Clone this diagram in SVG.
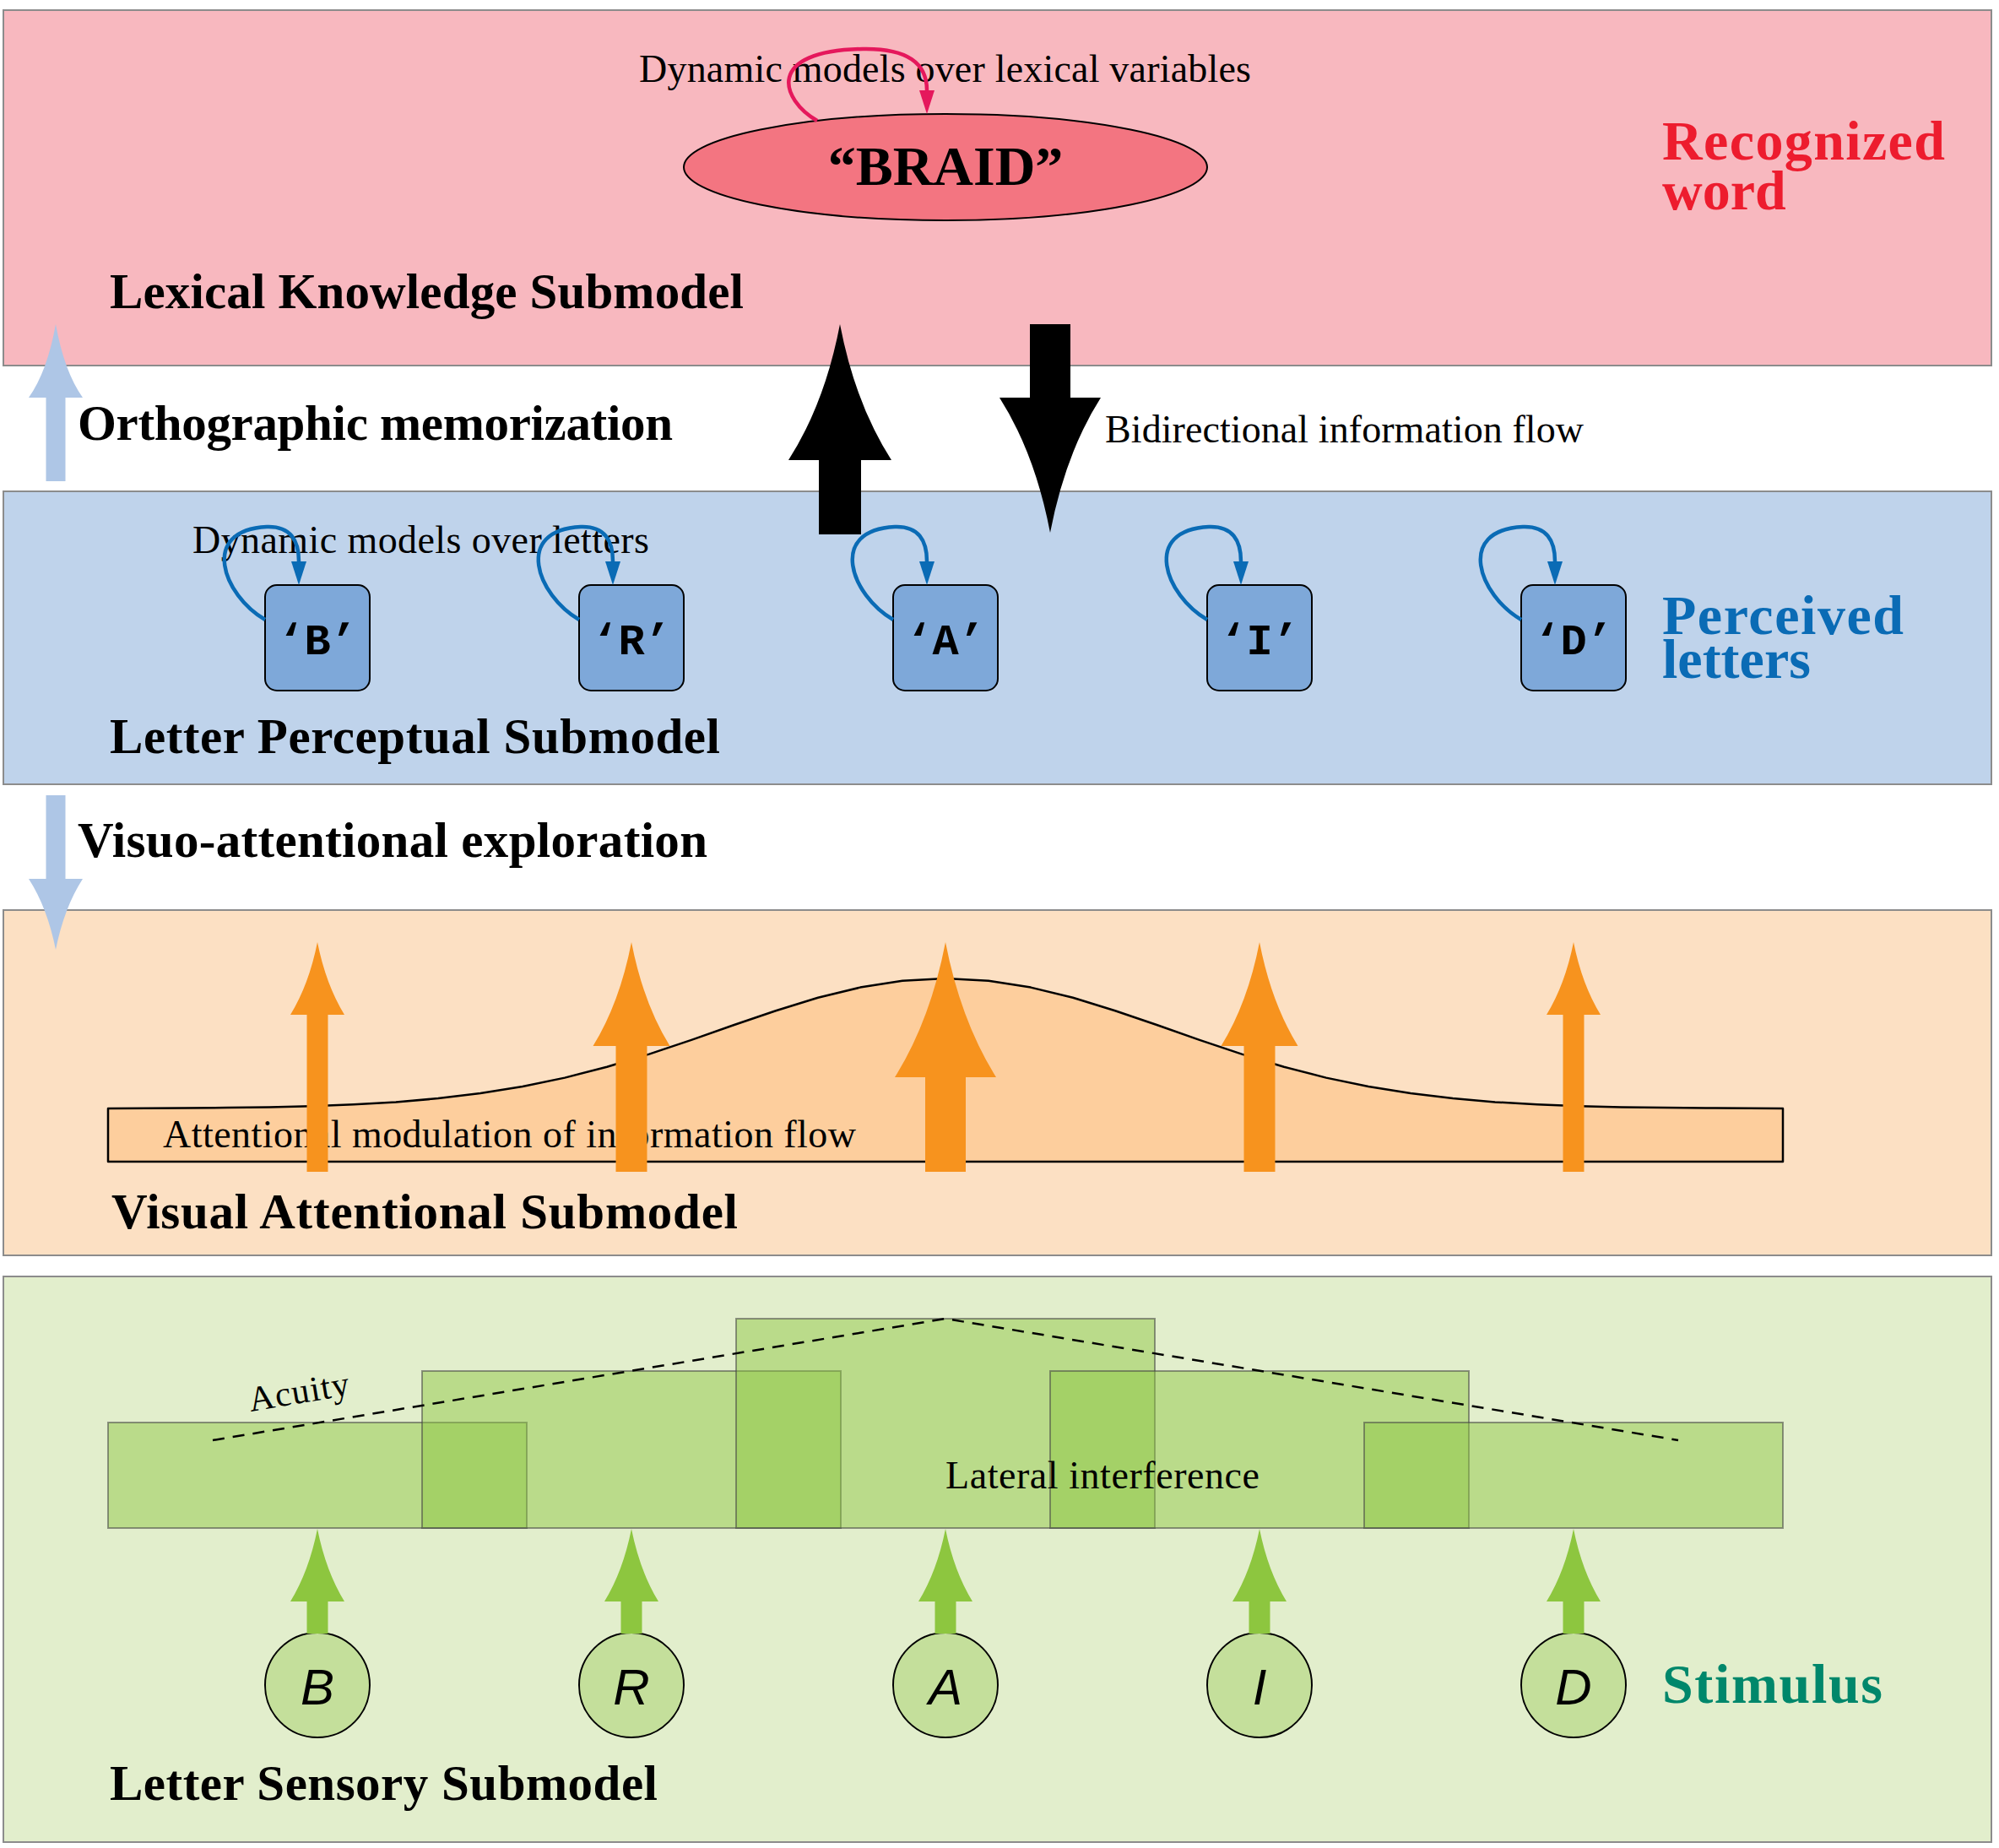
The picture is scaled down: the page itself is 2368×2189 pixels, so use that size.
<svg xmlns="http://www.w3.org/2000/svg" width="2368" height="2189" viewBox="0 0 2368 2189">
<style>
.panel{stroke:#8c8c8c;stroke-width:2}
.lbl{font-family:"Liberation Serif","Times New Roman",serif;font-size:46px;fill:#000}
.title{font-family:"Liberation Serif","Times New Roman",serif;font-size:59px;font-weight:bold;fill:#000}
.side{font-family:"Liberation Serif","Times New Roman",serif;font-size:66px;font-weight:bold}
.tt{font-family:"Liberation Mono","Courier New",monospace;font-size:52px;font-weight:bold;fill:#000;text-anchor:middle}
.sens{font-family:"Liberation Sans",Arial,sans-serif;font-style:italic;font-size:60px;fill:#000;text-anchor:middle}
.box{fill:#7ea8d9;stroke:#000;stroke-width:2}
.circ{fill:#c4df9b;stroke:#000;stroke-width:2}
.loopb{fill:none;stroke:#0a6bb5;stroke-width:4.5}
.loopp{fill:none;stroke:#e5185c;stroke-width:4.5}
.orange{fill:#f7931e}
.green{fill:#8dc63f}
.lblue{fill:#aec6e6}
.gr{fill:#8dc63f;fill-opacity:0.47;stroke:#444;stroke-opacity:0.55;stroke-width:2}
</style>
<defs>
<marker id="ab" markerUnits="userSpaceOnUse" markerWidth="30" markerHeight="20" refX="0" refY="9" orient="auto">
<path d="M0,0 L28,9 L0,18 z" fill="#0a6bb5"/>
</marker>
<marker id="ap" markerUnits="userSpaceOnUse" markerWidth="30" markerHeight="20" refX="0" refY="9" orient="auto">
<path d="M0,0 L28,9 L0,18 z" fill="#e5185c"/>
</marker>
</defs>

<g id="panels">
<rect id="lexical-panel" class="panel" x="4" y="12" width="2355" height="421" fill="#f8b8bf"/>
<rect id="perceptual-panel" class="panel" x="4" y="582" width="2355" height="347" fill="#bfd3eb"/>
<rect id="attentional-panel" class="panel" x="4" y="1078" width="2355" height="409" fill="#fce0c3"/>
<rect id="sensory-panel" class="panel" x="4" y="1512" width="2355" height="670" fill="#e2eecc"/>
</g>

<g id="lexical">
<ellipse id="braid" cx="1120" cy="198" rx="310" ry="63" fill="#f37581" stroke="#000" stroke-width="2"/>
<text class="title" x="1120" y="219" text-anchor="middle" style="font-size:66px">“BRAID”</text>
<text class="lbl" x="757" y="97" textLength="725">Dynamic models over lexical variables</text>
<path class="loopp" d="M968,143 C925,118 905,60 1022,58 C1075,57 1098,75 1098,107" marker-end="url(#ap)"/>
<text class="title" x="130" y="365" textLength="751">Lexical Knowledge Submodel</text>
<text class="side" x="1969" y="189" fill="#ed1c2e" textLength="335">Recognized</text>
<text class="side" x="1969" y="248" fill="#ed1c2e">word</text>
</g>

<g id="perceptual">
<text class="lbl" x="228" y="655" textLength="541">Dynamic models over letters</text>
<g id="letter-B"><rect class="box" x="314" y="693" width="124" height="125" rx="14"/><text class="tt" x="376" y="775">‘B’</text></g>
<g id="letter-R"><rect class="box" x="686" y="693" width="124" height="125" rx="14"/><text class="tt" x="748" y="775">‘R’</text></g>
<g id="letter-A"><rect class="box" x="1058" y="693" width="124" height="125" rx="14"/><text class="tt" x="1120" y="775">‘A’</text></g>
<g id="letter-I"><rect class="box" x="1430" y="693" width="124" height="125" rx="14"/><text class="tt" x="1492" y="775">‘I’</text></g>
<g id="letter-D"><rect class="box" x="1802" y="693" width="124" height="125" rx="14"/><text class="tt" x="1864" y="775">‘D’</text></g>
<text class="title" x="130" y="892" textLength="723">Letter Perceptual Submodel</text>
<text class="side" x="1969" y="751" fill="#0a6bb5" textLength="286">Perceived</text>
<text class="side" x="1969" y="803" fill="#0a6bb5">letters</text>
</g>

<g id="attentional">
<path d="M128,1376 L128,1313 L219,1312.5 L269,1312.1 L319,1311.4 L369,1310.2 L419,1308.3 L469,1305.4 L519,1301.1 L569,1295.1 L619,1287 L669,1276.6 L719,1263.7 L769,1248.6 L819,1231.9 L869,1214.3 L919,1197.2 L969,1181.8 L1019,1169.6 L1069,1161.7 L1120,1159 L1171,1161.7 L1221,1169.6 L1271,1181.8 L1321,1197.2 L1371,1214.3 L1421,1231.9 L1471,1248.6 L1521,1263.7 L1571,1276.6 L1621,1287 L1671,1295.1 L1721,1301.1 L1771,1305.4 L1821,1308.3 L1871,1310.2 L1921,1311.4 L1971,1312.1 L2021,1312.5 L2112,1313 L2112,1376 Z" fill="#fdce9d" stroke="#000" stroke-width="2.5" stroke-linejoin="round"/>
<text class="lbl" x="193" y="1359" textLength="821">Attentional modulation of information flow</text>
<text class="title" x="132" y="1455" textLength="742">Visual Attentional Submodel</text>
</g>

<g id="sensory">
<rect class="gr" x="128" y="1685" width="496" height="125"/>
<rect class="gr" x="500" y="1624" width="496" height="186"/>
<rect class="gr" x="872" y="1562" width="496" height="248"/>
<rect class="gr" x="1244" y="1624" width="496" height="186"/>
<rect class="gr" x="1616" y="1685" width="496" height="125"/>
<path d="M252,1706 L1120,1562 L1988,1706" fill="none" stroke="#000" stroke-width="2.5" stroke-dasharray="14 10"/>
<text class="lbl" x="297" y="1672" transform="rotate(-9.45 297 1672)" style="font-size:42px" textLength="120">Acuity</text>
<text class="lbl" x="1120" y="1763" textLength="372">Lateral interference</text>
<g id="stim-B"><circle class="circ" cx="376" cy="1996" r="62"/><text class="sens" x="376" y="2019">B</text></g>
<g id="stim-R"><circle class="circ" cx="748" cy="1996" r="62"/><text class="sens" x="748" y="2019">R</text></g>
<g id="stim-A"><circle class="circ" cx="1120" cy="1996" r="62"/><text class="sens" x="1120" y="2019">A</text></g>
<g id="stim-I"><circle class="circ" cx="1492" cy="1996" r="62"/><text class="sens" x="1492" y="2019">I</text></g>
<g id="stim-D"><circle class="circ" cx="1864" cy="1996" r="62"/><text class="sens" x="1864" y="2019">D</text></g>
<text class="side" x="1969" y="2017" fill="#00876b" textLength="261">Stimulus</text>
<text class="title" x="130" y="2132" textLength="649">Letter Sensory Submodel</text>
</g>

<g id="connectors">
<path class="lblue" d="M66,384 Q76,440 98,471 L77.5,471 L77.5,570 L54.5,570 L54.5,471 L34,471 Q56,440 66,384 Z"/>
<text class="title" x="92" y="521" textLength="705">Orthographic memorization</text>
<path class="lblue" d="M66,1125 Q76,1075 98,1041 L77.5,1041 L77.5,942 L54.5,942 L54.5,1041 L34,1041 Q56,1075 66,1125 Z"/>
<text class="title" x="92" y="1015" textLength="746">Visuo-attentional exploration</text>
<path d="M995,384 Q1013,478 1056,545 L1020,545 L1020,633 L970,633 L970,545 L934,545 Q977,478 995,384 Z" fill="#000"/>
<path d="M1244,631 Q1262,537 1304,471 L1268,471 L1268,384 L1220,384 L1220,471 L1184,471 Q1226,537 1244,631 Z" fill="#000"/>
<text class="lbl" x="1309" y="524" textLength="567">Bidirectional information flow</text>
<g id="loops">
<path class="loopb" d="M314,734 C264,705 236,628 316,624 C344,623 354,640 354,665" marker-end="url(#ab)"/>
<path class="loopb" d="M686,734 C636,705 608,628 688,624 C716,623 726,640 726,665" marker-end="url(#ab)"/>
<path class="loopb" d="M1058,734 C1008,705 980,628 1060,624 C1088,623 1098,640 1098,665" marker-end="url(#ab)"/>
<path class="loopb" d="M1430,734 C1380,705 1352,628 1432,624 C1460,623 1470,640 1470,665" marker-end="url(#ab)"/>
<path class="loopb" d="M1802,734 C1752,705 1724,628 1804,624 C1832,623 1842,640 1842,665" marker-end="url(#ab)"/>
</g>
<g id="orange-arrows">
<path class="orange" d="M376,1116 Q386,1166 408,1202 L388.5,1202 L388.5,1388 L363.5,1388 L363.5,1202 L344,1202 Q366,1166 376,1116 Z"/>
<path class="orange" d="M748,1116 Q762,1188 793.5,1239 L766.5,1239 L766.5,1388 L729.5,1388 L729.5,1239 L702.5,1239 Q734,1188 748,1116 Z"/>
<path class="orange" d="M1120,1116 Q1138,1209 1180,1276 L1144,1276 L1144,1388 L1096,1388 L1096,1276 L1060,1276 Q1102,1209 1120,1116 Z"/>
<path class="orange" d="M1492,1116 Q1506,1188 1537.5,1239 L1510.5,1239 L1510.5,1388 L1473.5,1388 L1473.5,1239 L1446.5,1239 Q1478,1188 1492,1116 Z"/>
<path class="orange" d="M1864,1116 Q1874,1166 1896,1202 L1876.5,1202 L1876.5,1388 L1851.5,1388 L1851.5,1202 L1832,1202 Q1854,1166 1864,1116 Z"/>
</g>
<g id="green-arrows">
<path class="green" d="M376,1811 Q386,1861 408,1897 L388.5,1897 L388.5,1935 L363.5,1935 L363.5,1897 L344,1897 Q366,1861 376,1811 Z"/>
<path class="green" d="M748,1811 Q758,1861 780,1897 L760.5,1897 L760.5,1935 L735.5,1935 L735.5,1897 L716,1897 Q738,1861 748,1811 Z"/>
<path class="green" d="M1120,1811 Q1130,1861 1152,1897 L1132.5,1897 L1132.5,1935 L1107.5,1935 L1107.5,1897 L1088,1897 Q1110,1861 1120,1811 Z"/>
<path class="green" d="M1492,1811 Q1502,1861 1524,1897 L1504.5,1897 L1504.5,1935 L1479.5,1935 L1479.5,1897 L1460,1897 Q1482,1861 1492,1811 Z"/>
<path class="green" d="M1864,1811 Q1874,1861 1896,1897 L1876.5,1897 L1876.5,1935 L1851.5,1935 L1851.5,1897 L1832,1897 Q1854,1861 1864,1811 Z"/>
</g>
</g>
</svg>
